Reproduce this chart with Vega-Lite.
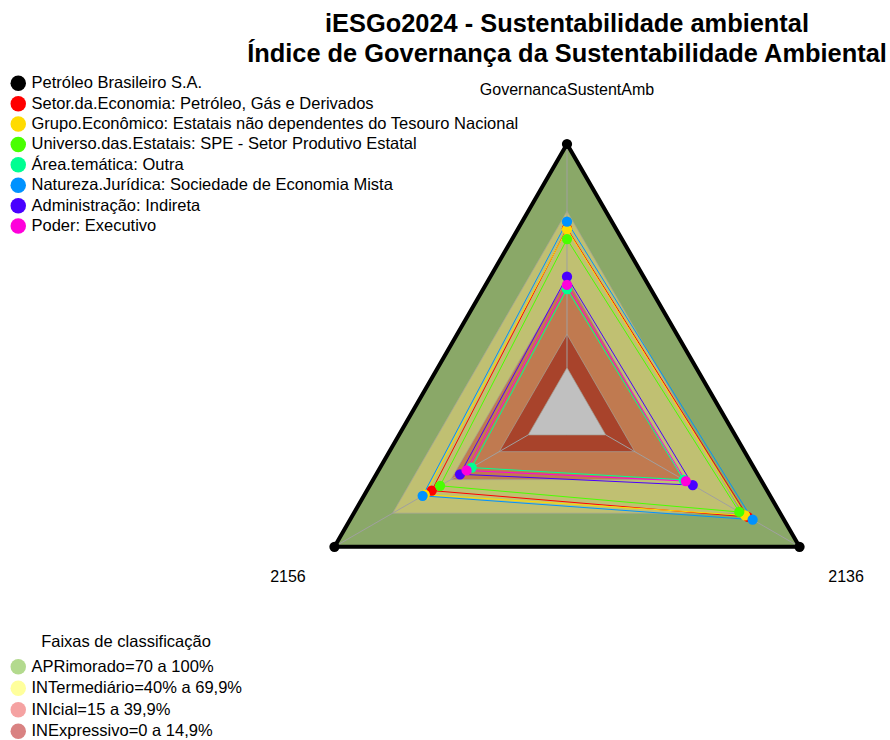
{
  "$schema": "https://vega.github.io/schema/vega-lite/v6.json",
  "width": 890,
  "height": 670,
  "autosize": {"type": "none"},
  "padding": {"left": 0, "top": 70, "right": 0, "bottom": 0},
  "background": "white",
  "config": {"view": {"stroke": null}, "font": "Liberation Sans"},
  "title": {
    "text": ["iESGo2024 - Sustentabilidade ambiental", "Índice de Governança da Sustentabilidade Ambiental"],
    "fontSize": 25.4,
    "fontWeight": "bold",
    "lineHeight": 30,
    "anchor": "middle",
    "frame": "group",
    "dx": 122,
    "offset": 3,
    "color": "black",
    "font": "Liberation Sans"
  },
  "datasets": {
    "eixos": [
      {"eixo": "GovernancaSustentAmb", "idx": 0},
      {"eixo": "2156", "idx": 1},
      {"eixo": "2136", "idx": 2}
    ],
    "series": [
      {"serie": "Petróleo Brasileiro S.A.", "eixo": "GovernancaSustentAmb", "valor": 100},
      {"serie": "Petróleo Brasileiro S.A.", "eixo": "2156", "valor": 100},
      {"serie": "Petróleo Brasileiro S.A.", "eixo": "2136", "valor": 100},
      {"serie": "Setor.da.Economia: Petróleo, Gás e Derivados", "eixo": "GovernancaSustentAmb", "valor": 62.3},
      {"serie": "Setor.da.Economia: Petróleo, Gás e Derivados", "eixo": "2156", "valor": 49.8},
      {"serie": "Setor.da.Economia: Petróleo, Gás e Derivados", "eixo": "2136", "valor": 73.4},
      {"serie": "Grupo.Econômico: Estatais não dependentes do Tesouro Nacional", "eixo": "GovernancaSustentAmb", "valor": 61.9},
      {"serie": "Grupo.Econômico: Estatais não dependentes do Tesouro Nacional", "eixo": "2156", "valor": 53.4},
      {"serie": "Grupo.Econômico: Estatais não dependentes do Tesouro Nacional", "eixo": "2136", "valor": 71.9},
      {"serie": "Universo.das.Estatais: SPE - Setor Produtivo Estatal", "eixo": "GovernancaSustentAmb", "valor": 57.5},
      {"serie": "Universo.das.Estatais: SPE - Setor Produtivo Estatal", "eixo": "2156", "valor": 45.5},
      {"serie": "Universo.das.Estatais: SPE - Setor Produtivo Estatal", "eixo": "2136", "valor": 68.9},
      {"serie": "Área.temática: Outra", "eixo": "GovernancaSustentAmb", "valor": 35.1},
      {"serie": "Área.temática: Outra", "eixo": "2156", "valor": 29.2},
      {"serie": "Área.temática: Outra", "eixo": "2136", "valor": 40.2},
      {"serie": "Natureza.Jurídica: Sociedade de Economia Mista", "eixo": "GovernancaSustentAmb", "valor": 65.3},
      {"serie": "Natureza.Jurídica: Sociedade de Economia Mista", "eixo": "2156", "valor": 54.5},
      {"serie": "Natureza.Jurídica: Sociedade de Economia Mista", "eixo": "2136", "valor": 75.8},
      {"serie": "Administração: Indireta", "eixo": "GovernancaSustentAmb", "valor": 40.7},
      {"serie": "Administração: Indireta", "eixo": "2156", "valor": 35.2},
      {"serie": "Administração: Indireta", "eixo": "2136", "valor": 44.9},
      {"serie": "Poder: Executivo", "eixo": "GovernancaSustentAmb", "valor": 37.0},
      {"serie": "Poder: Executivo", "eixo": "2156", "valor": 31.8},
      {"serie": "Poder: Executivo", "eixo": "2136", "valor": 41.3}
    ],
    "faixas": [
      {"faixa": "APR", "nivel": 100, "eixo": "GovernancaSustentAmb"},
      {"faixa": "APR", "nivel": 100, "eixo": "2156"},
      {"faixa": "APR", "nivel": 100, "eixo": "2136"},
      {"faixa": "INT", "nivel": 70, "eixo": "GovernancaSustentAmb"},
      {"faixa": "INT", "nivel": 70, "eixo": "2156"},
      {"faixa": "INT", "nivel": 70, "eixo": "2136"},
      {"faixa": "INI", "nivel": 40, "eixo": "GovernancaSustentAmb"},
      {"faixa": "INI", "nivel": 40, "eixo": "2156"},
      {"faixa": "INI", "nivel": 40, "eixo": "2136"},
      {"faixa": "INE", "nivel": 15, "eixo": "GovernancaSustentAmb"},
      {"faixa": "INE", "nivel": 15, "eixo": "2156"},
      {"faixa": "INE", "nivel": 15, "eixo": "2136"},
      {"faixa": "base", "nivel": 0, "eixo": "GovernancaSustentAmb"},
      {"faixa": "base", "nivel": 0, "eixo": "2156"},
      {"faixa": "base", "nivel": 0, "eixo": "2136"}
    ],
    "legenda": [
      {"faixa": "APRimorado=70 a 100%"},
      {"faixa": "INTermediário=40% a 69,9%"},
      {"faixa": "INIcial=15 a 39,9%"},
      {"faixa": "INExpressivo=0 a 14,9%"}
    ]
  },
  "resolve": {"scale": {"fill": "independent"}, "legend": {"fill": "independent"}},
  "layer": [
    {
      "data": {"name": "legenda"},
      "mark": {"type": "point", "filled": true, "opacity": 1, "size": 4, "shape": "circle"},
      "encoding": {
        "x": {"datum": 0, "type": "quantitative", "scale": {"domain": [-2.1117, 1.203], "nice": false, "zero": false}, "axis": null},
        "y": {"datum": 0, "type": "quantitative", "scale": {"domain": [-1.2197, 1.2756], "nice": false, "zero": false}, "axis": null},
        "fill": {
          "field": "faixa", "type": "nominal",
          "scale": {
            "domain": ["APRimorado=70 a 100%", "INTermediário=40% a 69,9%", "INIcial=15 a 39,9%", "INExpressivo=0 a 14,9%"],
            "range": ["#b3da8e", "#ffff9c", "#f5a2a2", "#d98282"]
          },
          "legend": {
            "orient": "none", "legendX": 10, "legendY": 564,
            "title": "Faixas de classificação",
            "titleFontSize": 16.5, "titleFontWeight": "normal", "titleFont": "Liberation Sans", "titleColor": "black",
            "titleAnchor": "middle", "titlePadding": 8,
            "labelFontSize": 16.5, "labelFont": "Liberation Sans", "labelColor": "black", "labelLimit": 0,
            "symbolSize": 240, "symbolType": "circle", "symbolStrokeWidth": 0, "symbolOpacity": 1,
            "rowPadding": 4.5, "labelOffset": 5, "padding": 0
          }
        }
      }
    },
    {
      "data": {"name": "faixas"},
      "transform": [
        {"lookup": "eixo", "from": {"data": {"name": "eixos"}, "key": "eixo", "fields": ["idx"]}},
        {"calculate": "PI/2 + datum.idx*2*PI/3", "as": "ang"},
        {"calculate": "(1 + 5*datum.nivel/100)/6", "as": "r"},
        {"calculate": "datum.r*cos(datum.ang)", "as": "px"},
        {"calculate": "datum.r*sin(datum.ang)", "as": "py"},
        {"calculate": "-0.5*datum.r", "as": "py2"}
      ],
      "mark": {"type": "area", "orient": "vertical", "interpolate": "linear", "stroke": "#a3a39a", "strokeWidth": 0.7, "opacity": 1},
      "encoding": {
        "x": {"field": "px", "type": "quantitative", "scale": {"domain": [-2.1117, 1.203], "nice": false, "zero": false}, "axis": null},
        "y": {"field": "py", "type": "quantitative", "scale": {"domain": [-1.2197, 1.2756], "nice": false, "zero": false}, "axis": null},
        "y2": {"field": "py2"},
        "fill": {
          "field": "faixa", "type": "nominal",
          "scale": {"domain": ["APR", "INT", "INI", "INE", "base"], "range": ["#8aa868", "#c0c072", "#c07a50", "#a8432b", "#c0c0c0"]},
          "legend": null
        }
      }
    },
    {
      "data": {"name": "eixos"},
      "transform": [
        {"calculate": "PI/2 + datum.idx*2*PI/3", "as": "ang"},
        {"calculate": "cos(datum.ang)/6", "as": "x0"},
        {"calculate": "sin(datum.ang)/6", "as": "y0"},
        {"calculate": "cos(datum.ang)", "as": "x1"},
        {"calculate": "sin(datum.ang)", "as": "y1"}
      ],
      "mark": {"type": "rule", "color": "#a0a0a0", "strokeWidth": 1},
      "encoding": {
        "x": {"field": "x0", "type": "quantitative", "scale": {"domain": [-2.1117, 1.203], "nice": false, "zero": false}, "axis": null},
        "y": {"field": "y0", "type": "quantitative", "scale": {"domain": [-1.2197, 1.2756], "nice": false, "zero": false}, "axis": null},
        "x2": {"field": "x1"},
        "y2": {"field": "y1"}
      }
    },
    {
      "data": {"name": "eixos"},
      "transform": [
        {"calculate": "PI/2 + datum.idx*2*PI/3", "as": "ang"},
        {"calculate": "1.2*cos(datum.ang)", "as": "lx"},
        {"calculate": "datum.idx == 0 ? 1.2 : 1.2*sin(datum.ang) - 0.012", "as": "ly"}
      ],
      "mark": {"type": "text", "fontSize": 16, "font": "Liberation Sans", "color": "black", "align": "center", "baseline": "middle"},
      "encoding": {
        "x": {"field": "lx", "type": "quantitative", "scale": {"domain": [-2.1117, 1.203], "nice": false, "zero": false}, "axis": null},
        "y": {"field": "ly", "type": "quantitative", "scale": {"domain": [-1.2197, 1.2756], "nice": false, "zero": false}, "axis": null},
        "text": {"field": "eixo", "type": "nominal"}
      }
    },
    {
      "data": {"name": "series"},
      "transform": [
        {"filter": "datum.serie != 'Petróleo Brasileiro S.A.'"},
        {"lookup": "eixo", "from": {"data": {"name": "eixos"}, "key": "eixo", "fields": ["idx"]}},
        {"calculate": "PI/2 + datum.idx*2*PI/3", "as": "ang"},
        {"calculate": "(1 + 5*datum.valor/100)/6", "as": "r"},
        {"calculate": "datum.r*cos(datum.ang)", "as": "px"},
        {"calculate": "datum.r*sin(datum.ang)", "as": "py"}
      ],
      "mark": {"type": "line", "interpolate": "linear-closed", "strokeWidth": 1},
      "encoding": {
        "x": {"field": "px", "type": "quantitative", "scale": {"domain": [-2.1117, 1.203], "nice": false, "zero": false}, "axis": null},
        "y": {"field": "py", "type": "quantitative", "scale": {"domain": [-1.2197, 1.2756], "nice": false, "zero": false}, "axis": null},
        "order": {"field": "idx", "type": "quantitative"},
        "stroke": {
          "field": "serie", "type": "nominal",
          "scale": {
            "domain": ["Setor.da.Economia: Petróleo, Gás e Derivados", "Grupo.Econômico: Estatais não dependentes do Tesouro Nacional", "Universo.das.Estatais: SPE - Setor Produtivo Estatal", "Área.temática: Outra", "Natureza.Jurídica: Sociedade de Economia Mista", "Administração: Indireta", "Poder: Executivo"],
            "range": ["#FF0000", "#FFDB00", "#49FF00", "#00FF92", "#0092FF", "#4900FF", "#FF00DB"]
          },
          "legend": null
        }
      }
    },
    {
      "data": {"name": "series"},
      "transform": [
        {"filter": "datum.serie == 'Petróleo Brasileiro S.A.'"},
        {"lookup": "eixo", "from": {"data": {"name": "eixos"}, "key": "eixo", "fields": ["idx"]}},
        {"calculate": "PI/2 + datum.idx*2*PI/3", "as": "ang"},
        {"calculate": "(1 + 5*datum.valor/100)/6", "as": "r"},
        {"calculate": "datum.r*cos(datum.ang)", "as": "px"},
        {"calculate": "datum.r*sin(datum.ang)", "as": "py"}
      ],
      "mark": {"type": "line", "interpolate": "linear-closed", "strokeWidth": 4, "color": "black"},
      "encoding": {
        "x": {"field": "px", "type": "quantitative", "scale": {"domain": [-2.1117, 1.203], "nice": false, "zero": false}, "axis": null},
        "y": {"field": "py", "type": "quantitative", "scale": {"domain": [-1.2197, 1.2756], "nice": false, "zero": false}, "axis": null},
        "order": {"field": "idx", "type": "quantitative"}
      }
    },
    {
      "data": {"name": "series"},
      "transform": [
        {"lookup": "eixo", "from": {"data": {"name": "eixos"}, "key": "eixo", "fields": ["idx"]}},
        {"calculate": "PI/2 + datum.idx*2*PI/3", "as": "ang"},
        {"calculate": "(1 + 5*datum.valor/100)/6", "as": "r"},
        {"calculate": "datum.r*cos(datum.ang)", "as": "px"},
        {"calculate": "datum.r*sin(datum.ang)", "as": "py"}
      ],
      "mark": {"type": "point", "filled": true, "opacity": 1, "size": 105, "shape": "circle", "strokeWidth": 0},
      "encoding": {
        "x": {"field": "px", "type": "quantitative", "scale": {"domain": [-2.1117, 1.203], "nice": false, "zero": false}, "axis": null},
        "y": {"field": "py", "type": "quantitative", "scale": {"domain": [-1.2197, 1.2756], "nice": false, "zero": false}, "axis": null},
        "color": {
          "field": "serie", "type": "nominal",
          "scale": {
            "domain": ["Petróleo Brasileiro S.A.", "Setor.da.Economia: Petróleo, Gás e Derivados", "Grupo.Econômico: Estatais não dependentes do Tesouro Nacional", "Universo.das.Estatais: SPE - Setor Produtivo Estatal", "Área.temática: Outra", "Natureza.Jurídica: Sociedade de Economia Mista", "Administração: Indireta", "Poder: Executivo"],
            "range": ["#000000", "#FF0000", "#FFDB00", "#49FF00", "#00FF92", "#0092FF", "#4900FF", "#FF00DB"]
          },
          "legend": {
            "orient": "none", "legendX": 10, "legendY": 5, "title": null,
            "labelFontSize": 16.5, "labelFont": "Liberation Sans", "labelColor": "black", "labelLimit": 0,
            "symbolSize": 240, "symbolType": "circle", "symbolStrokeWidth": 0, "symbolOpacity": 1,
            "rowPadding": 3.4, "labelOffset": 5, "padding": 0
          }
        }
      }
    }
  ]
}
